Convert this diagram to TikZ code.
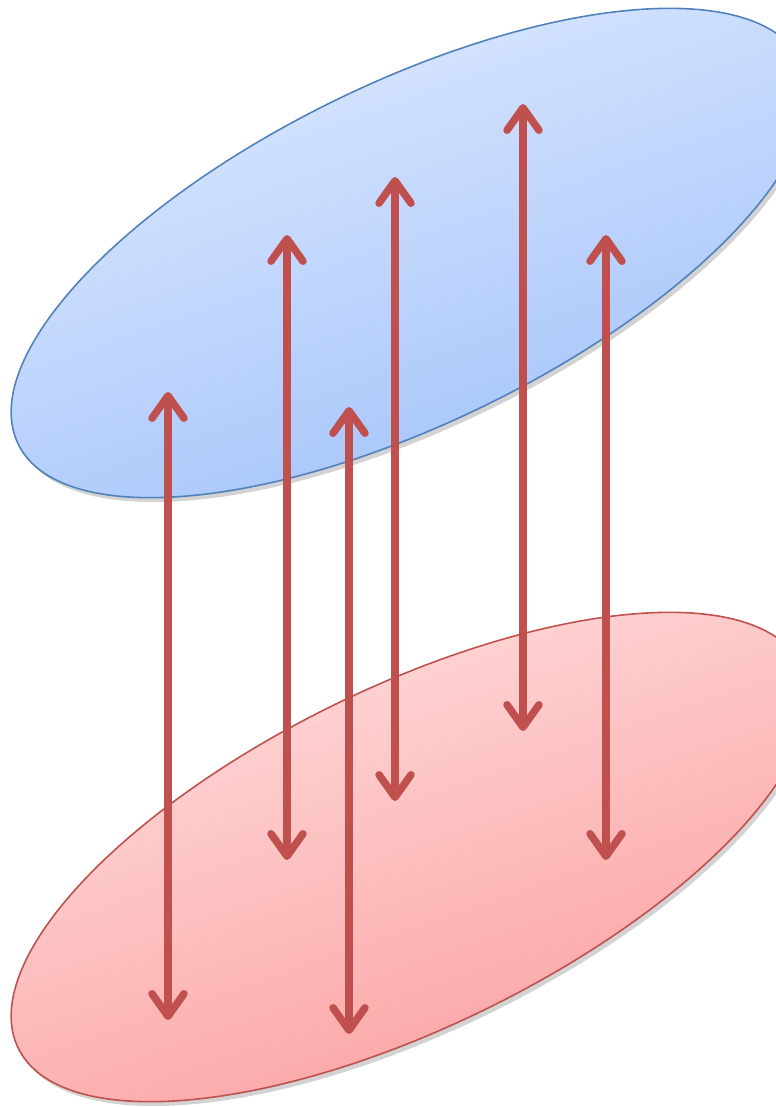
\documentclass[tikz,border=0pt]{standalone}
\usepackage{tikz}
\usetikzlibrary{arrows.meta, shapes.geometric, shadows}
\definecolor{SetBlue}{RGB}{79,129,189}
\definecolor{SetRed}{RGB}{192,80,77}
\definecolor{BlueLight}{RGB}{224,235,255}
\definecolor{BlueDark}{RGB}{160,193,250}
\definecolor{RedLight}{RGB}{255,224,224}
\definecolor{RedDark}{RGB}{251,157,157}

\begin{document}
\begin{tikzpicture}[x=0.02cm, y=-0.02cm,
    setshape/.style={ellipse, inner sep=0pt, minimum width=17.44cm, minimum height=6.8cm,
      rotate=26, line width=0.9pt,
      drop shadow={shadow xshift=2pt, shadow yshift=-2.5pt, opacity=0.35}},
    setfill/.style 2 args={top color=#1, bottom color=#2, shading angle=19},
    link/.style={draw=SetRed, line width=0.15cm,
      {Straight Barb[length=0.45cm, width=0.64cm, line cap=round, line join=round]}-{Straight Barb[length=0.45cm, width=0.64cm, line cap=round, line join=round]}}]
  \useasboundingbox (0,0) rectangle (776,1107);
  \clip (0,0) rectangle (776,1107);

  % the two sets
  \node[setshape, draw=SetBlue, setfill={BlueLight}{BlueDark}] (upper) at (410,253) {};
  \node[setshape, draw=SetRed, setfill={RedLight}{RedDark}] (lower) at (410,857) {};

  % pairs between them
  \foreach \i/\x/\t/\b in {1/168/392/1020, 2/287/235/860, 3/395/177/801, 4/523/104/731, 5/606/235/860, 6/349/407/1034} {
    \coordinate (top\i) at (\x,\t);
    \coordinate (bot\i) at (\x,\b);
    \draw[link] (top\i) -- (bot\i);
  }
\end{tikzpicture}
\end{document}
